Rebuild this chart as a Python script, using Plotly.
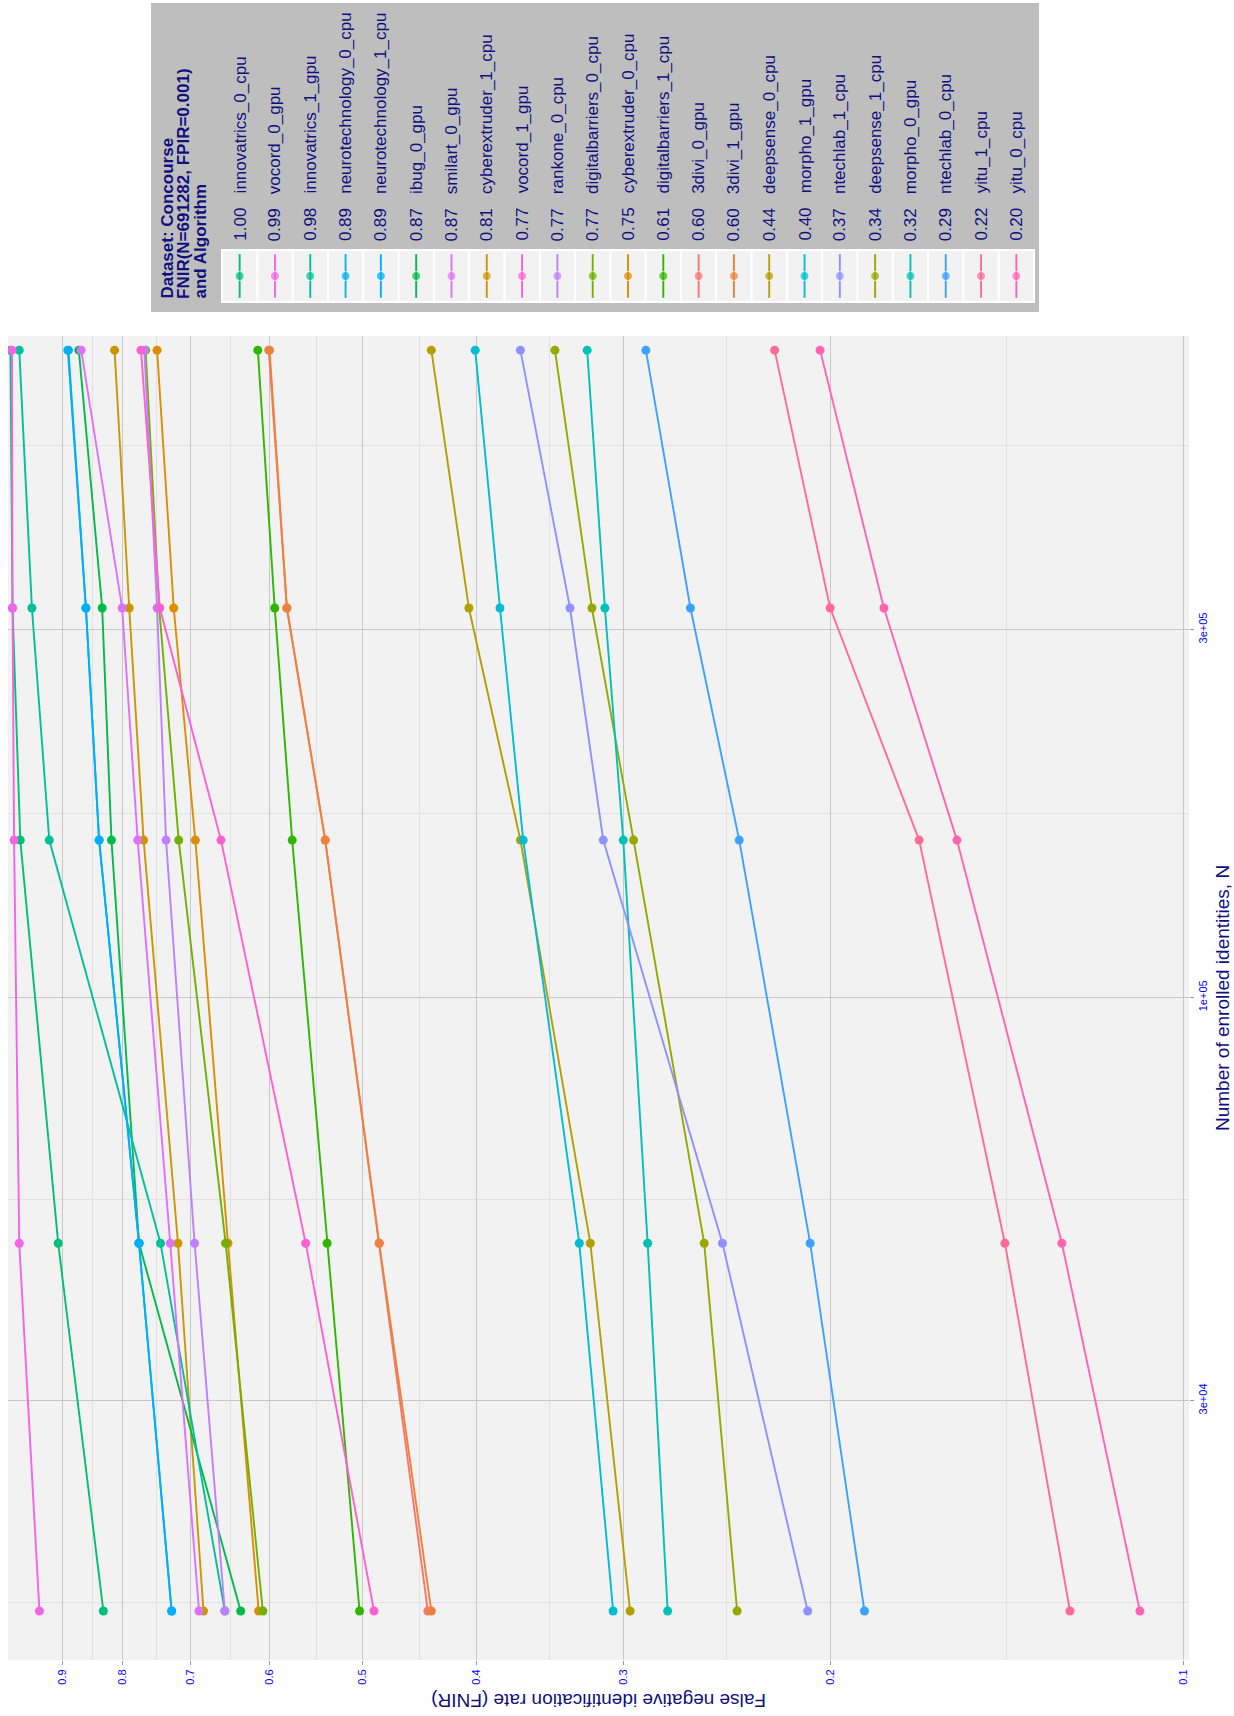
import math
import plotly.graph_objects as go

# ---------------- data (legend order) ----------------
names = ["innovatrics_0_cpu", "vocord_0_gpu", "innovatrics_1_gpu", "neurotechnology_0_cpu",
         "neurotechnology_1_cpu", "ibug_0_gpu", "smilart_0_gpu", "cyberextruder_1_cpu",
         "vocord_1_gpu", "rankone_0_cpu", "digitalbarriers_0_cpu", "cyberextruder_0_cpu",
         "digitalbarriers_1_cpu", "3divi_0_gpu", "3divi_1_gpu", "deepsense_0_cpu",
         "morpho_1_gpu", "ntechlab_1_cpu", "deepsense_1_cpu", "morpho_0_gpu",
         "ntechlab_0_cpu", "yitu_1_cpu", "yitu_0_cpu"]

n_enrolled = [16000, 48000, 160000, 320000, 691282]

fnir_16k = [0.831, 0.942, 0.655, 0.727, 0.727, 0.635, 0.689, 0.683, 0.489, 0.655, 0.608, 0.613,
            0.503, 0.440, 0.437, 0.296, 0.306, 0.209, 0.240, 0.275, 0.187, 0.125, 0.109]
fnir_48k = [0.908, 0.980, 0.743, 0.775, 0.775, 0.775, 0.729, 0.718, 0.559, 0.695, 0.654, 0.651,
            0.536, 0.484, 0.484, 0.320, 0.327, 0.247, 0.256, 0.286, 0.208, 0.142, 0.127]
fnir_160k = [0.978, 0.990, 0.924, 0.838, 0.838, 0.818, 0.777, 0.768, 0.660, 0.735, 0.717, 0.694,
             0.574, 0.538, 0.538, 0.367, 0.365, 0.312, 0.294, 0.300, 0.239, 0.168, 0.156]
fnir_320k = [0.993, 0.993, 0.956, 0.860, 0.860, 0.833, 0.801, 0.790, 0.744, 0.748, 0.745, 0.724,
             0.594, 0.580, 0.580, 0.406, 0.382, 0.333, 0.319, 0.311, 0.263, 0.200, 0.180]
fnir_691k = [0.997, 0.994, 0.980, 0.891, 0.890, 0.872, 0.868, 0.813, 0.772, 0.767, 0.765, 0.748,
             0.614, 0.601, 0.600, 0.437, 0.401, 0.367, 0.343, 0.322, 0.287, 0.223, 0.204]

fnir_ticks = [0.1, 0.2, 0.3, 0.4, 0.5, 0.6, 0.7, 0.8, 0.9]
fnir_ticktext = ["0.1", "0.2", "0.3", "0.4", "0.5", "0.6", "0.7", "0.8", "0.9"]
n_ticks = [30000, 100000, 300000]
n_ticktext = ["3e+04", "1e+05", "3e+05"]

legend_title = ["Dataset: Concourse", "FNIR(N=691282, FPIR=0.001)", "and Algorithm"]
x_title = "Number of enrolled identities, N"
y_title = "False negative identification rate (FNIR)"

# ---------------- styling helpers ----------------
W, H = 1234, 1716
FONT = "Liberation Sans, Arial, sans-serif"


def px(x):
    return x / W


def py(y):
    return 1 - y / H


def hcl_hex(h, c=100.0, l=65.0):
    hr = math.radians(h)
    U, V = c * math.cos(hr), c * math.sin(hr)
    Xn, Yn, Zn = 95.047, 100.0, 108.883
    Y = Yn * ((l + 16) / 116) ** 3 if l > 8 else Yn * l / 903.3
    d = Xn + 15 * Yn + 3 * Zn
    un, vn = 4 * Xn / d, 9 * Yn / d
    u, v = U / (13 * l) + un, V / (13 * l) + vn
    X = 9.0 * Y * u / (4 * v)
    Z = -X / 3 - 5 * Y + 3 * Y / v
    X, Y, Z = X / 100, Y / 100, Z / 100
    r = 3.240479 * X - 1.537150 * Y - 0.498535 * Z
    g = -0.969256 * X + 1.875992 * Y + 0.041556 * Z
    b = 0.055648 * X - 0.204043 * Y + 1.057311 * Z

    def gam(t):
        t = 1.055 * t ** (1 / 2.4) - 0.055 if t > 0.0031308 else 12.92 * t
        return int(round(min(max(t, 0), 1) * 255))
    return "#%02X%02X%02X" % (gam(r), gam(g), gam(b))


levels = sorted(names)
n_lv = len(levels)
colors = {nm: hcl_hex(15 + 360 * i / n_lv) for i, nm in enumerate(levels)}

series = {nm: [fnir_16k[i], fnir_48k[i], fnir_160k[i], fnir_320k[i], fnir_691k[i]]
          for i, nm in enumerate(names)}

fig = go.Figure()

# main lines, drawn in factor order
for nm in levels:
    fig.add_trace(go.Scatter(
        x=series[nm], y=n_enrolled, mode="lines+markers", name=nm,
        line=dict(color=colors[nm], width=1.9),
        marker=dict(color=colors[nm], size=9),
        xaxis="x", yaxis="y", showlegend=False))

# legend keys
for i, nm in enumerate(names):
    fig.add_trace(go.Scatter(
        x=[i, i, i], y=[0.08, 0.5, 0.92], mode="lines+markers",
        line=dict(color=colors[nm], width=1.9),
        marker=dict(color=colors[nm], size=[0, 9, 0]),
        xaxis="x2", yaxis="y2", showlegend=False, hoverinfo="skip"))

# minor breaks (log-space midpoints)
fnir_minor = [math.sqrt(a * b) for a, b in zip(fnir_ticks[:-1], fnir_ticks[1:])]
n_minor = [n_ticks[0] / math.sqrt(n_ticks[1] / n_ticks[0])] + \
          [math.sqrt(a * b) for a, b in zip(n_ticks[:-1], n_ticks[1:])] + \
          [n_ticks[-1] * math.sqrt(n_ticks[-1] / n_ticks[-2])]

panel_l, panel_r, panel_t, panel_b = 8, 1189, 336, 1660
key_l, key_r, key_t, key_b = 222, 1034, 250, 302
cell = (key_r - key_l) / len(names)

shapes = [
    dict(type="rect", xref="paper", yref="paper", x0=px(151), x1=px(1039), y0=py(312), y1=py(3),
         fillcolor="#BEBEBE", line=dict(width=0), layer="below"),
    dict(type="rect", xref="paper", yref="paper", x0=px(key_l), x1=px(key_r), y0=py(key_b), y1=py(key_t),
         fillcolor="#F2F2F2", line=dict(color="white", width=2), layer="below"),
]
for i in range(1, len(names)):
    xx = key_l + i * cell
    shapes.append(dict(type="line", xref="paper", yref="paper", x0=px(xx), x1=px(xx),
                       y0=py(key_b), y1=py(key_t), line=dict(color="white", width=2), layer="below"))

annotations = []
for i, nm in enumerate(names):
    annotations.append(dict(
        xref="paper", yref="paper", x=px(key_l + (i + 0.5) * cell), y=py(243),
        xanchor="center", yanchor="bottom", textangle=-90, showarrow=False,
        text=f"{fnir_691k[i]:.2f}\u00a0\u00a0\u00a0{nm}",
        font=dict(family=FONT, size=17, color="#10107E")))
for j, t in enumerate(legend_title):
    annotations.append(dict(
        xref="paper", yref="paper", x=px(167 + 16.5 * j), y=py(301),
        xanchor="center", yanchor="bottom", textangle=-90, showarrow=False,
        text=f"<b>{t}</b>", font=dict(family=FONT, size=17, color="#10107E")))
annotations.append(dict(
    xref="paper", yref="paper", x=px((panel_l + panel_r) / 2), y=py(1701),
    xanchor="center", yanchor="middle", textangle=180, showarrow=False,
    text=y_title, font=dict(family=FONT, size=19, color="#10107E")))
annotations.append(dict(
    xref="paper", yref="paper", x=px(1222), y=py((panel_t + panel_b) / 2),
    xanchor="center", yanchor="middle", textangle=-90, showarrow=False,
    text=x_title, font=dict(family=FONT, size=19, color="#10107E")))

fig.update_layout(
    width=W, height=H, autosize=False,
    margin=dict(l=0, r=0, t=0, b=0, pad=0),
    paper_bgcolor="white", plot_bgcolor="#F2F2F2",
    font=dict(family=FONT),
    showlegend=False,
    xaxis=dict(
        type="log", range=[0.0008, -1.0044], domain=[px(panel_l), px(panel_r)], anchor="y",
        tickmode="array", tickvals=fnir_ticks, ticktext=fnir_ticktext, tickangle=-90,
        tickfont=dict(size=11, color="#0000FF", family=FONT),
        ticks="outside", ticklen=4, tickwidth=1, tickcolor="#9A9A9A",
        showgrid=True, gridcolor="#C8C8C8", gridwidth=1.2,
        minor=dict(tickmode="array", tickvals=fnir_minor, showgrid=True,
                   gridcolor="#E2E2E2", gridwidth=0.8, ticks=""),
        zeroline=False, showline=False),
    yaxis=dict(
        type="log", range=[4.1406, 5.858], domain=[py(panel_b), py(panel_t)], anchor="x",
        side="right",
        tickmode="array", tickvals=n_ticks, ticktext=n_ticktext, tickangle=-90,
        tickfont=dict(size=11, color="#0000FF", family=FONT),
        ticks="outside", ticklen=4, tickwidth=1, tickcolor="#9A9A9A",
        showgrid=True, gridcolor="#C8C8C8", gridwidth=1.2,
        minor=dict(tickmode="array", tickvals=n_minor, showgrid=True,
                   gridcolor="#E2E2E2", gridwidth=0.8, ticks=""),
        zeroline=False, showline=False),
    xaxis2=dict(domain=[px(key_l), px(key_r)], range=[-0.5, len(names) - 0.5], anchor="y2",
                visible=False),
    yaxis2=dict(domain=[py(key_b), py(key_t)], range=[0, 1], anchor="x2", visible=False),
    shapes=shapes,
    annotations=annotations,
)

fig.write_html("out.html", config={"displayModeBar": False},
               post_script="document.body.style.margin='0';document.body.style.padding='0';")
